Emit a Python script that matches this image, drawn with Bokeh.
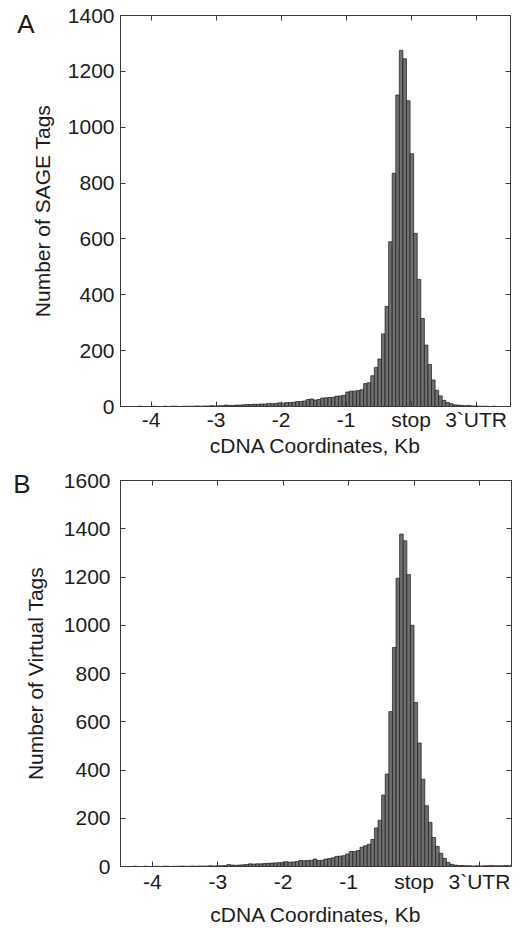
import numpy as np
from bokeh.plotting import figure
from bokeh.models import (Range1d, FixedTicker, LinearAxis, Column,
                          CustomLabelingPolicy)
from bokeh.embed import file_html
from bokeh.resources import INLINE

# ---------------- data ----------------
# histogram bin layout (Kb relative to stop codon)
bin_width = 0.055
a_bin_start = -4.47
b_bin_start = -4.51

# Panel A: SAGE tags per bin
sage_counts = [
    0, 0, 0, 0, 0, 1, 0, 0, 0, 1, 0, 0, 1, 0, 1, 1, 0, 1, 1, 1,
    1, 2, 1, 2, 2, 3, 2, 3, 3, 5, 4, 4, 5, 5, 6, 7, 7, 8, 8, 9,
    9, 11, 10, 11, 13, 12, 14, 14, 15, 18, 18, 20, 25, 27, 23, 25, 30, 31, 32, 33,
    37, 38, 40, 52, 55, 55, 57, 60, 82, 85, 110, 140, 170, 260, 358, 590, 835, 1115,
    1275,
    1245, 1095, 905, 620, 455, 315, 220, 150, 95, 58, 38, 22, 14, 10, 6, 5, 4, 3, 4, 2,
    2, 1, 1, 1, 0, 1, 0, 0, 0, 0,
]

# Panel B: virtual tags per bin
virtual_counts = [
    0, 0, 0, 0, 1, 0, 0, 1, 0, 0, 1, 0, 1, 1, 0, 1, 1, 2, 1, 1,
    2, 1, 2, 2, 2, 3, 2, 3, 3, 4, 8, 6, 5, 6, 7, 8, 11, 10, 11, 11,
    12, 13, 14, 15, 16, 17, 20, 18, 19, 21, 25, 24, 25, 26, 31, 25, 26, 31, 33, 36,
    42, 43, 45, 52, 62, 62, 66, 80, 86, 92, 112, 160, 192, 296, 383, 642, 908, 1195,
    1378,
    1350, 1210, 1000, 680, 512, 362, 252, 183, 120, 83, 55, 34, 17, 9, 6, 4, 4, 3, 3, 2,
    3, 2, 3, 3, 4, 3, 3, 3, 4, 3,
]

x_ticks = [-4, -3, -2, -1, 0, 1]
x_tick_names = {-4: "-4", -3: "-3", -2: "-2", -1: "-1", 0: "stop", 1: "3`UTR"}
a_y_ticks = [0, 200, 400, 600, 800, 1000, 1200, 1400]
b_y_ticks = [0, 200, 400, 600, 800, 1000, 1200, 1400, 1600]

FONT = "Liberation Sans"
TXT = "#1c1c1c"
AX = "#3a3a3a"


def make_panel(counts, start, xr, yr, yticks, ylabel, letter, letter_level, letter_standoff,
               width, height, mb_left, mb_right, mb_top, mb_bottom,
               ytick_standoff, ylabel_standoff, xtick_standoff, xlabel_standoff):
    p = figure(width=width, height=height, output_backend="svg", toolbar_location=None,
               x_range=Range1d(*xr), y_range=Range1d(*yr),
               min_border_left=mb_left, min_border_right=mb_right,
               min_border_top=mb_top, min_border_bottom=mb_bottom)
    edges = start + bin_width * np.arange(len(counts) + 1)
    p.quad(left=edges[:-1], right=edges[1:], bottom=0, top=counts,
           fill_color="#707070", line_color="#1a1a1a", line_width=0.7)

    p.xgrid.visible = False
    p.ygrid.visible = False
    p.outline_line_color = AX
    p.outline_line_width = 1
    p.background_fill_color = "white"
    p.border_fill_color = "white"

    p.xaxis.ticker = FixedTicker(ticks=x_ticks)
    p.xaxis.major_label_overrides = x_tick_names
    p.yaxis.ticker = FixedTicker(ticks=yticks)
    p.xaxis.axis_label = "cDNA Coordinates, Kb"
    p.yaxis.axis_label = ylabel
    for ax in (p.xaxis, p.yaxis):
        ax.major_tick_in = 5
        ax.major_tick_out = 0
        ax.minor_tick_line_color = None
        ax.axis_line_color = AX
        ax.major_tick_line_color = AX
        ax.major_label_text_font = FONT
        ax.major_label_text_font_size = "21px"
        ax.major_label_text_color = TXT
        ax.axis_label_text_font = FONT
        ax.axis_label_text_font_size = "21px"
        ax.axis_label_text_font_style = "normal"
        ax.axis_label_text_color = TXT
    p.xaxis.major_label_standoff = xtick_standoff
    p.xaxis.axis_label_standoff = xlabel_standoff
    p.yaxis.major_label_standoff = ytick_standoff
    p.yaxis.axis_label_standoff = ylabel_standoff

    # mirrored inward ticks on the top and right edges (no labels)
    hide = "for (const i of indices) { indices.unset(i) }\nreturn indices"
    top_ax = LinearAxis(ticker=FixedTicker(ticks=x_ticks), major_label_text_font_size="0px",
                        major_label_policy=CustomLabelingPolicy(code=hide),
                        major_label_standoff=0, major_tick_in=5, major_tick_out=0,
                        minor_tick_line_color=None, axis_line_color=AX,
                        major_tick_line_color=AX)
    right_ax = LinearAxis(ticker=FixedTicker(ticks=yticks), major_label_text_font_size="0px",
                          major_label_policy=CustomLabelingPolicy(code=hide),
                          major_label_standoff=0, major_tick_in=5, major_tick_out=0,
                          minor_tick_line_color=None, axis_line_color=AX,
                          major_tick_line_color=AX)
    p.add_layout(top_ax, "above")
    p.add_layout(right_ax, "right")

    # panel letter, drawn as the single label of an outer, line-less left axis
    letter_ax = LinearAxis(ticker=FixedTicker(ticks=[letter_level]),
                           major_label_overrides={letter_level: letter},
                           major_label_text_font=FONT, major_label_text_font_size="26px",
                           major_label_text_color=TXT, major_label_standoff=letter_standoff,
                           major_tick_in=0, major_tick_out=0, axis_line_color=None,
                           major_tick_line_color=None, minor_tick_line_color=None)
    p.add_layout(letter_ax, "left")
    return p


pa = make_panel(sage_counts, a_bin_start, (-4.47, 1.53), (0, 1400), a_y_ticks,
                "Number of SAGE Tags", "A", 1368, -7,
                width=516, height=464, mb_left=116, mb_right=6, mb_top=15, mb_bottom=58,
                ytick_standoff=6, ylabel_standoff=11, xtick_standoff=1, xlabel_standoff=0)

pb = make_panel(virtual_counts, b_bin_start, (-4.487, 1.49), (0, 1600), b_y_ticks,
                "Number of Virtual Tags", "B", 1585, -10,
                width=517, height=464, mb_left=120, mb_right=4, mb_top=16, mb_bottom=60,
                ytick_standoff=10, ylabel_standoff=14, xtick_standoff=3, xlabel_standoff=7)

layout = Column(pa, pb, spacing=0)
open("out.html", "w").write(file_html(layout, INLINE))
